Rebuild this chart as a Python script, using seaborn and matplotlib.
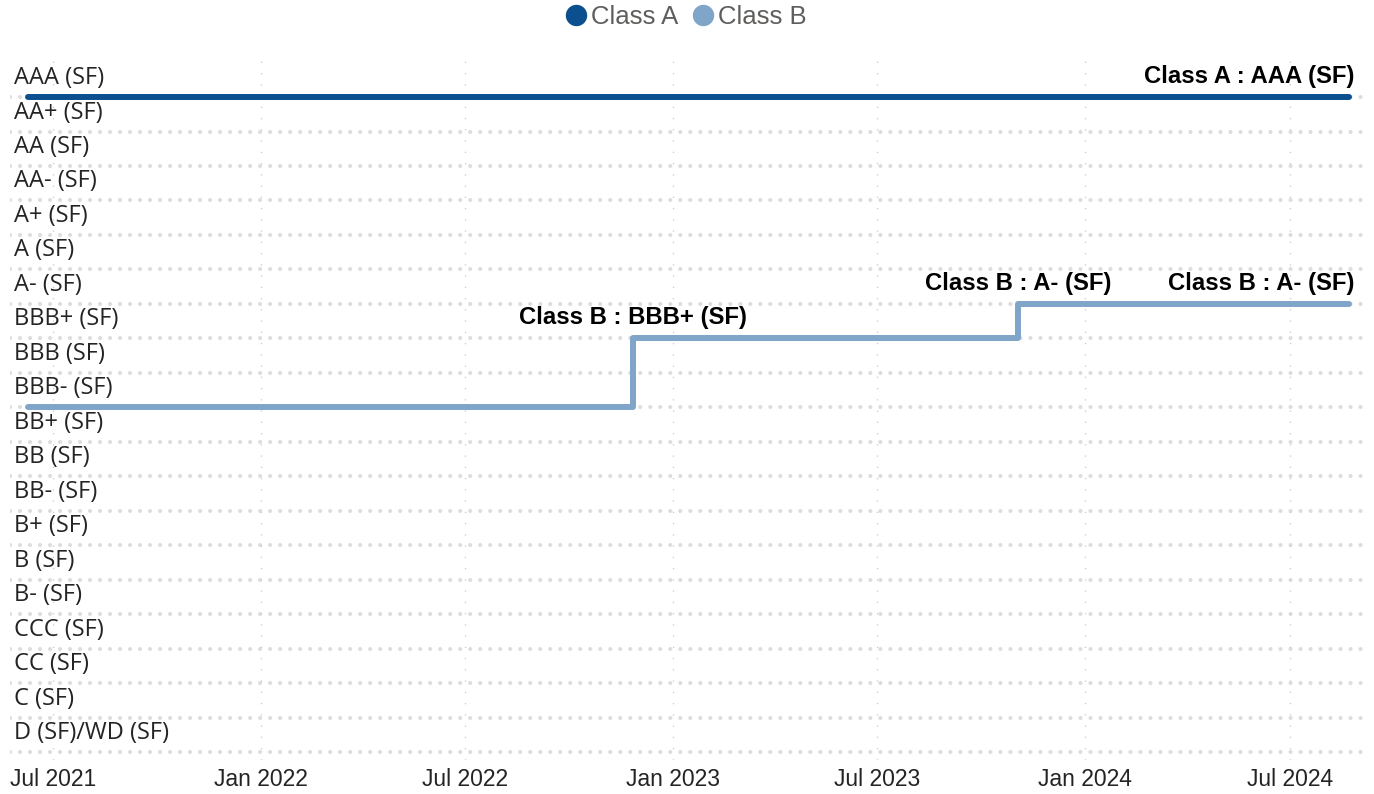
import pandas as pd
import matplotlib
matplotlib.use("Agg")
import matplotlib.pyplot as plt
import matplotlib.dates as mdates
from matplotlib.lines import Line2D
import seaborn as sns

# rating scale, best to worst
ratings = ["AAA (SF)", "AA+ (SF)", "AA (SF)", "AA- (SF)", "A+ (SF)", "A (SF)", "A- (SF)",
           "BBB+ (SF)", "BBB (SF)", "BBB- (SF)", "BB+ (SF)", "BB (SF)", "BB- (SF)",
           "B+ (SF)", "B (SF)", "B- (SF)", "CCC (SF)", "CC (SF)", "C (SF)", "D (SF)/WD (SF)"]
rank = {r: len(ratings) - 1 - i for i, r in enumerate(ratings)}

class_a_dates = ["2021-06-09", "2024-08-22"]
class_a_ratings = ["AAA (SF)", "AAA (SF)"]
class_b_dates = ["2021-06-09", "2022-11-27", "2023-11-03", "2024-08-22"]
class_b_ratings = ["BBB- (SF)", "BBB+ (SF)", "A- (SF)", "A- (SF)"]

tick_dates = ["2021-07-01", "2022-01-01", "2022-07-01", "2023-01-01",
              "2023-07-01", "2024-01-01", "2024-07-01"]
tick_labels = ["Jul 2021", "Jan 2022", "Jul 2022", "Jan 2023",
               "Jul 2023", "Jan 2024", "Jul 2024"]

colors = {"Class A": "#0b4f8f", "Class B": "#7fa6c9"}

series = {"Class A": (class_a_dates, class_a_ratings),
          "Class B": (class_b_dates, class_b_ratings)}
rows = []
for cls, (ds, rs) in series.items():
    for d, r in zip(ds, rs):
        rows.append({"date": pd.Timestamp(d), "rating": r, "rank": rank[r], "cls": cls})
df = pd.DataFrame(rows)

sns.set_theme(style="white")
plt.rcParams["font.family"] = ["Liberation Sans", "DejaVu Sans"]

W, H = 1374, 794
fig = plt.figure(figsize=(W / 100, H / 100), dpi=100)
ax = fig.add_axes([10 / W, 34 / H, 1356 / W, 700 / H])

# horizontal dotted grid per rating level
for r in ratings:
    ax.axhline(rank[r], color="#dddddd", lw=3.0, linestyle=(0, (0.001, 2.4)),
               dash_capstyle="round", zorder=0)
for d in tick_dates:
    ax.axvline(pd.Timestamp(d), color="#c8c8c8", lw=0.9, linestyle=(0, (1, 8)), zorder=0)

sns.lineplot(data=df, x="date", y="rank", hue="cls", palette=colors,
             drawstyle="steps-post", linewidth=4.3, solid_capstyle="round",
             legend=False, ax=ax)

# annotations at rating changes and at the last point
for cls, (ds, rs) in series.items():
    for i in range(1, len(ds)):
        last = i == len(ds) - 1
        ax.annotate(f"{cls} : {rs[i]}", xy=(pd.Timestamp(ds[i]), rank[rs[i]]),
                    xytext=(4 if last else 0, 10), textcoords="offset points",
                    ha="right" if last else "center", va="baseline",
                    fontsize=17.2, fontweight="bold", color="black",
                    annotation_clip=False)

# y labels sit inside the plot above their grid line
for r in ratings:
    ax.text(4 / 1356, rank[r] + 13 / 34.47, r, transform=ax.get_yaxis_transform(),
            ha="left", va="baseline", fontsize=17, color="#252423",
            family=["Open Sans", "DejaVu Sans"])

ref = mdates.date2num(pd.Timestamp("2023-01-01"))
ppd = 824 / 730
ax.set_xlim(ref + (10 - 673) / ppd, ref + (1366 - 673) / ppd)
ax.set_ylim(-8 / 34.47, (752 - 60) / 34.47)
ax.set_xticks([pd.Timestamp(d) for d in tick_dates])
ax.set_xticklabels(tick_labels)
ax.set_yticks([])
ax.tick_params(axis="x", length=0, pad=5.8, labelsize=16.5, labelcolor="#252423")
ax.set_xlabel("")
ax.set_ylabel("")
for s in ax.spines.values():
    s.set_visible(False)

handles = [Line2D([], [], marker="o", linestyle="", color=colors[c], markersize=14.4)
           for c in colors]
fig.legend(handles, list(colors), loc="upper center", bbox_to_anchor=(686 / W, 1.0),
           ncol=2, frameon=False, fontsize=18.5, labelcolor="#605e5c",
           handlelength=0.8, handletextpad=0.2, columnspacing=0.55,
           borderaxespad=0.1, borderpad=0.1)

fig.savefig("out.png", dpi=100)
